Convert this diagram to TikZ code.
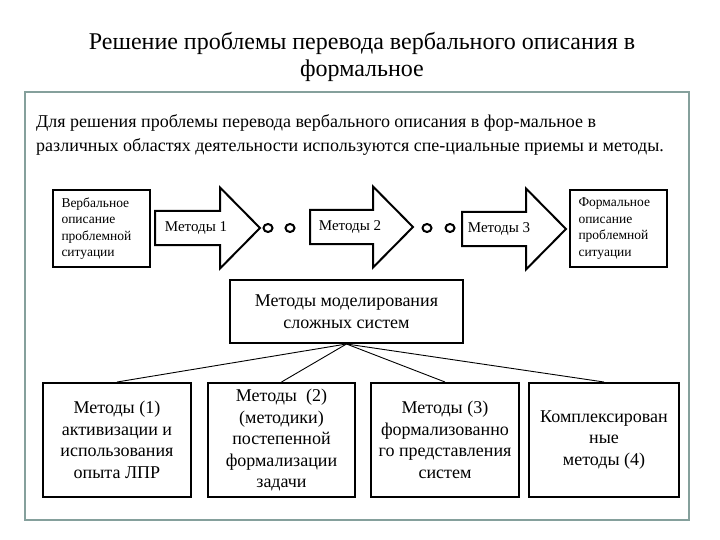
\documentclass[tikz,border=0pt]{standalone}
\usepackage{fontspec}
\setmainfont{Liberation Serif}
\usetikzlibrary{positioning}
\definecolor{framegray}{RGB}{133,160,156}

\tikzset{
  blockbox/.style={draw, line width=2pt, align=center, inner sep=2pt},
  sitbox/.style={draw, line width=2pt, minimum width=97pt, minimum height=77pt,
    text width=80pt, align=left, font=\fontsize{13.5}{16.5}\selectfont},
  methodbox/.style={blockbox, minimum width=148pt, minimum height=114pt,
    font=\fontsize{18}{21.5}\selectfont},
  flowarrow/.style={draw, line width=2pt, line join=miter},
  arrowtext/.style={inner sep=0pt, font=\fontsize{15}{18}\selectfont},
  ring/.style={line width=2pt},
  link/.style={line width=0.9pt}
}

\begin{document}
\begin{tikzpicture}[x=1pt, y=-1pt]
    \useasboundingbox (0,0) rectangle (720,540);

    % Title
    \node[align=center, font=\fontsize{24}{27}\selectfont] (title) at (362,57)
        {Решение проблемы перевода вербального описания в\\формальное};

    % Frame
    \draw[framegray, line width=2.5pt] (25,92) rectangle (689,520);

    % Intro text
    \node[anchor=north west, inner sep=0pt, align=left,
          font=\fontsize{18}{24}\selectfont] (intro) at (36,114)
        {Для решения проблемы перевода вербального описания в фор-мальное в\\
         различных областях деятельности используются спе-циальные приемы и методы.};

    % Situation boxes
    \node[sitbox] (verb) at (101.5,228.5) {Вербальное\\описание\\проблемной\\ситуации};
    \node[sitbox] (form) at (618.5,228.5) {Формальное\\описание\\проблемной\\ситуации};

    % Method arrows
    \foreach \t/\h/\c in {155/220/228, 310/373/227, 462/526/229} {
        \draw[flowarrow] (\t,\c-17) -- (\h,\c-17) -- (\h,\c-40.5) -- (\h+40,\c)
            -- (\h,\c+40.5) -- (\h,\c+17) -- (\t,\c+17) -- cycle;
    }
    \node[arrowtext] (arr1) at (196,228) {Методы 1};
    \node[arrowtext] (arr2) at (350,227) {Методы 2};
    \node[arrowtext] (arr3) at (499,229) {Методы 3};

    % Rings between arrows
    \foreach \x in {268,290,427,450}
        \draw[ring] (\x,228) ellipse [x radius=4.5pt, y radius=4pt];

    % Modelling methods
    \node[blockbox, minimum width=233pt, minimum height=63pt,
          font=\fontsize{18}{22}\selectfont] (model) at (346.5,311.5)
        {Методы моделирования\\сложных систем};

    % Groups of methods
    \node[methodbox] (grp1) at (117,440)
        {Методы (1)\\активизации и\\использования\\опыта ЛПР};
    \node[methodbox, minimum width=147pt] (grp2) at (281.5,440)
        {Методы\ \ (2)\\(методики)\\постепенной\\формализации\\задачи};
    \node[methodbox] (grp3) at (445,440)
        {Методы (3)\\формализованно\\го представления\\систем};
    \node[methodbox, minimum width=150pt] (grp4) at (604,440)
        {Комплексирован\\ные\\методы (4)};

    \foreach \g in {grp1,grp2,grp3,grp4}
        \draw[link] (model.south) -- (\g.north);
\end{tikzpicture}
\end{document}
